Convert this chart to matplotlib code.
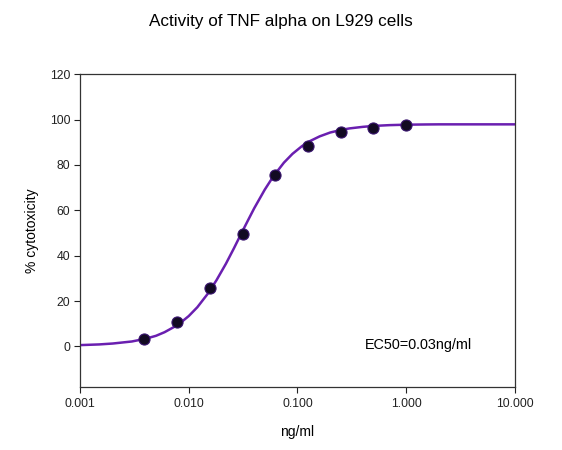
import matplotlib
matplotlib.use("Agg")
import matplotlib.pyplot as plt
from matplotlib.ticker import FixedLocator, NullLocator

plt.rcParams["font.family"] = ["Liberation Sans", "DejaVu Sans"]

# ============================================================
# Datos medidos (ng/ml vs % citotoxicidad)
# ============================================================

dose_ng_ml = [0.0039, 0.0078, 0.0156, 0.03125, 0.0625, 0.125, 0.25, 0.5, 1.0]
cytotox_pct = [3.3, 11.0, 25.8, 49.5, 75.4, 88.3, 94.7, 96.5, 97.8]

# Curva ajustada
curve_x = [0.001, 0.0015, 0.002, 0.003, 0.004, 0.005, 0.006, 0.008, 0.010,
           0.012, 0.015, 0.018, 0.022, 0.026, 0.030, 0.035, 0.040, 0.050,
           0.060, 0.075, 0.090, 0.11, 0.13, 0.16, 0.20, 0.25, 0.30, 0.40,
           0.50, 0.70, 1.0, 1.5, 2.0, 10.0]
curve_y = [0.6, 0.9, 1.3, 2.2, 3.4, 4.7, 6.3, 9.6, 13.4,
           17.3, 23.3, 29.2, 36.5, 43.2, 49.2, 55.5, 60.9, 69.1,
           75.0, 81.0, 84.9, 88.3, 90.5, 92.6, 94.3, 95.4, 96.1, 96.8,
           97.2, 97.55, 97.75, 97.85, 97.9, 97.9]

x_ticks = [0.001, 0.01, 0.1, 1.0, 10.0]
x_tick_labels = ["0.001", "0.010", "0.100", "1.000", "10.000"]
y_ticks = [0, 20, 40, 60, 80, 100, 120]

# ============================================================
# Figura
# ============================================================

fig = plt.figure(figsize=(5.62, 4.5), dpi=100)
ax = fig.add_axes([0.1423, 0.1393, 0.774, 0.6958])

ax.plot(curve_x, curve_y, color="#6a1fb0", linewidth=1.8, zorder=2)
ax.plot(dose_ng_ml, cytotox_pct, linestyle="none", marker="o",
        markersize=8, markerfacecolor="#120a22", markeredgecolor="#3a1670",
        markeredgewidth=0.8, zorder=3)

ax.set_xscale("log")
ax.set_xlim(0.001, 10)
ax.set_ylim(-18, 120)
ax.xaxis.set_major_locator(FixedLocator(x_ticks))
ax.xaxis.set_minor_locator(NullLocator())
ax.set_xticklabels(x_tick_labels)
ax.set_yticks(y_ticks)

ax.tick_params(direction="out", length=4, width=0.8, labelsize=8.8,
               colors="#222222", top=False, right=False)
ax.tick_params(axis="y", pad=3)
for spine in ax.spines.values():
    spine.set_color("#333333")
    spine.set_linewidth(0.9)

ax.set_xlabel("ng/ml", fontsize=10)
ax.set_ylabel("% cytotoxicity", fontsize=10)
ax.xaxis.set_label_coords(0.5, -0.142)
ax.xaxis.label.set_va("center")
ax.yaxis.set_label_coords(-0.110, 0.5)
ax.yaxis.label.set_va("center")

fig.text(0.5, 1 - 21.5 / 450, "Activity of TNF alpha on L929 cells",
         fontsize=12.3, ha="center", va="center")

ax.text(0.42, 0.8, "EC50=0.03ng/ml", fontsize=10.4, ha="left", va="center")

plt.savefig("out.png", dpi=100)
